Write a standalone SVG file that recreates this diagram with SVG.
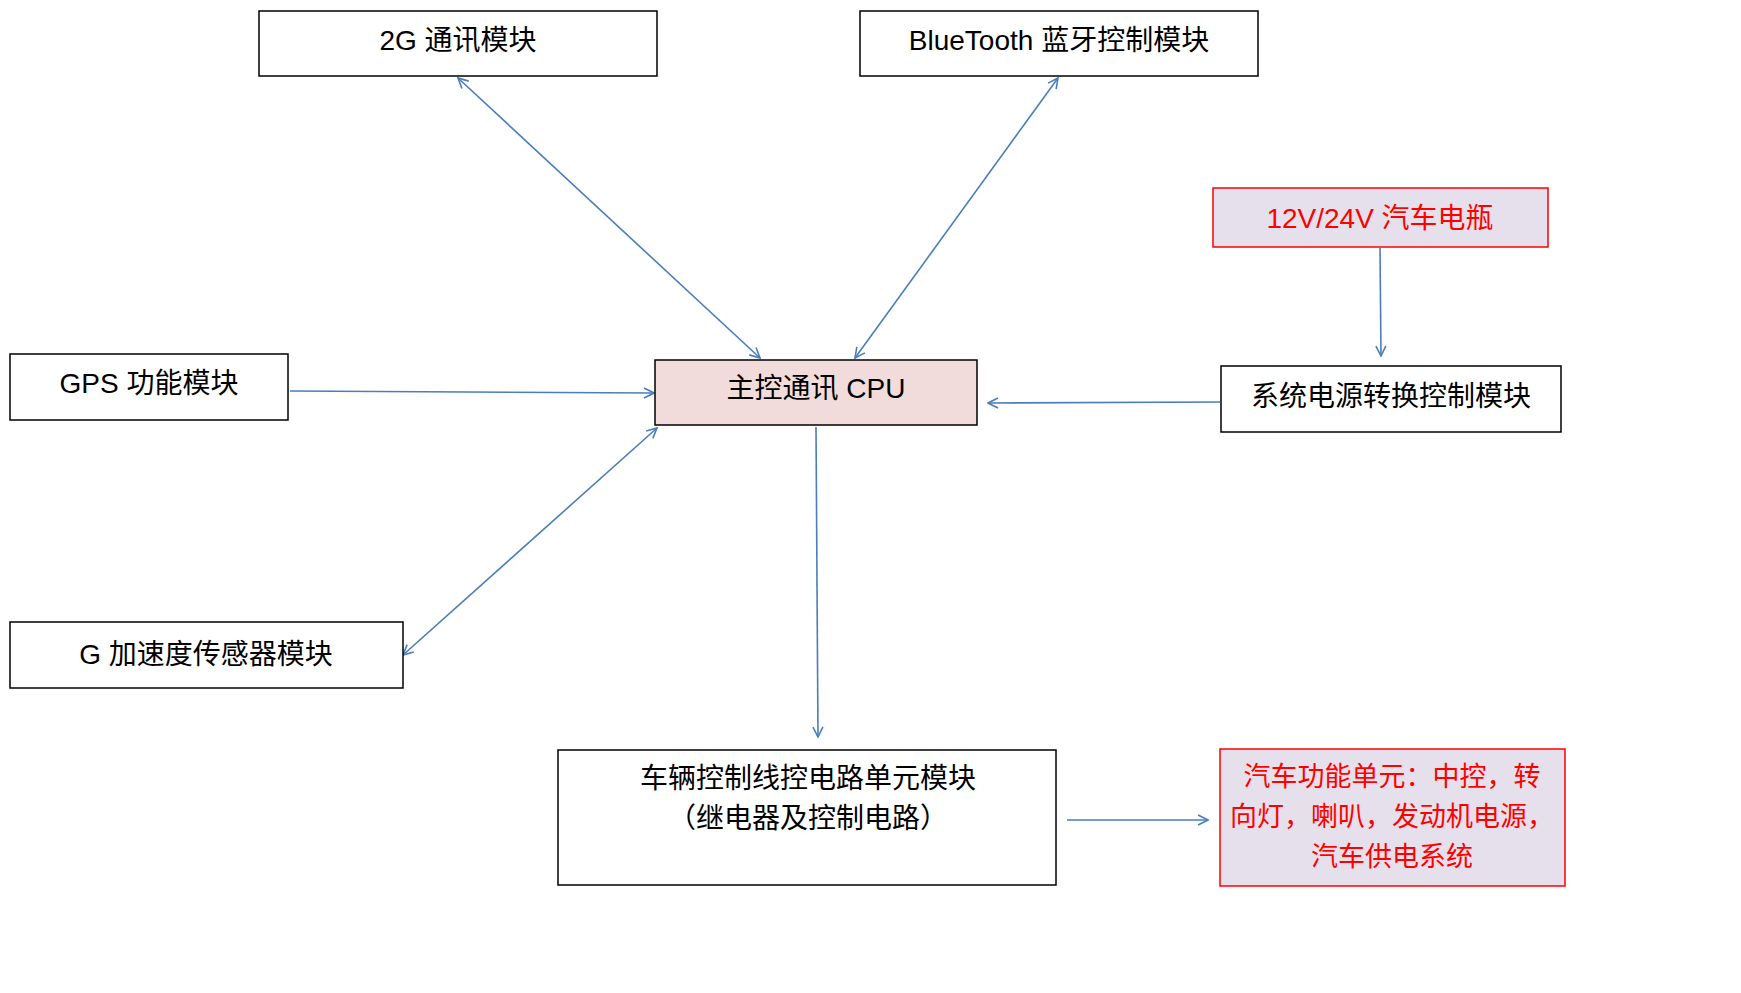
<svg xmlns="http://www.w3.org/2000/svg" width="1741" height="993" viewBox="0 0 1741 993">
<style>
.box{fill:#fff;stroke:#000;stroke-width:1.5}
.cpu{fill:#f2dcdb;stroke:#000;stroke-width:1.5}
.red{fill:#e6e0ec;stroke:#ff0000;stroke-width:1.5}
text{font-family:"Liberation Sans","Noto Sans CJK SC",sans-serif;font-size:28px;fill:#000;text-anchor:middle;dominant-baseline:central}
.rt{fill:#ff0000}
.sm{font-size:27px}
.c{stroke:#4a7ebb;stroke-width:1.6;fill:none;marker-end:url(#ah)}
.b{marker-start:url(#ahs)}
</style>
<defs>
<marker id="ah" viewBox="0 0 12 12" refX="11" refY="6" markerWidth="12" markerHeight="12" markerUnits="userSpaceOnUse" orient="auto">
<path d="M1,1 L11,6 L1,11" fill="none" stroke="#4a7ebb" stroke-width="1.6"/>
</marker>
<marker id="ahs" viewBox="0 0 12 12" refX="1" refY="6" markerWidth="12" markerHeight="12" markerUnits="userSpaceOnUse" orient="auto">
<path d="M11,1 L1,6 L11,11" fill="none" stroke="#4a7ebb" stroke-width="1.6"/>
</marker>
</defs>
<g id="connectors">
<line class="c b" x1="458" y1="78" x2="760" y2="358"/>
<line class="c b" x1="1058" y1="78" x2="855" y2="358"/>
<line class="c" x1="290" y1="391" x2="654" y2="393"/>
<line class="c" x1="1220" y1="402" x2="988" y2="403"/>
<line class="c b" x1="403" y1="655" x2="657" y2="428"/>
<line class="c" x1="816" y1="427" x2="818" y2="737"/>
<line class="c" x1="1380" y1="248" x2="1381" y2="356"/>
<line class="c" x1="1067" y1="820" x2="1208" y2="820"/>
</g>
<g id="n2g"><rect class="box" x="259" y="11" width="398" height="65"/><text x="458" y="40">2G 通讯模块</text></g>
<g id="nbt"><rect class="box" x="860" y="11" width="398" height="65"/><text x="1059" y="40">BlueTooth 蓝牙控制模块</text></g>
<g id="nbat"><rect class="red" x="1213" y="188" width="335" height="59"/><text class="rt" x="1380" y="218">12V/24V 汽车电瓶</text></g>
<g id="ngps"><rect class="box" x="10" y="354" width="278" height="66"/><text x="149" y="383">GPS 功能模块</text></g>
<g id="ncpu"><rect class="cpu" x="655" y="360" width="322" height="65"/><text x="816" y="388">主控通讯 CPU</text></g>
<g id="npwr"><rect class="box" x="1221" y="366" width="340" height="66"/><text x="1391" y="396">系统电源转换控制模块</text></g>
<g id="ng"><rect class="box" x="10" y="622" width="393" height="66"/><text x="206" y="654">G 加速度传感器模块</text></g>
<g id="nveh"><rect class="box" x="558" y="750" width="498" height="135"/><text x="808" y="778">车辆控制线控电路单元模块</text><text x="808" y="818">（继电器及控制电路）</text></g>
<g id="nfunc"><rect class="red" x="1220" y="749" width="345" height="137"/><text class="rt sm" x="1392" y="777">汽车功能单元：中控，转</text><text class="rt sm" x="1392" y="817">向灯，喇叭，发动机电源，</text><text class="rt sm" x="1392" y="857">汽车供电系统</text></g>
</svg>
